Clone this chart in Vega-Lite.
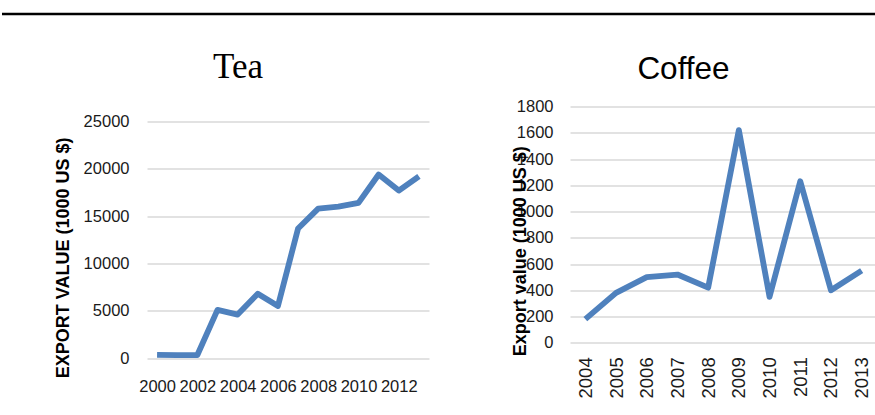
{
  "$schema": "https://vega.github.io/schema/vega-lite/v6.json",
  "background": "white",
  "padding": {"left": 0, "top": 12, "right": 0, "bottom": 0},
  "datasets": {
    "tea": [
      {"year": 2000, "value": 350},
      {"year": 2001, "value": 320},
      {"year": 2002, "value": 330},
      {"year": 2003, "value": 5100},
      {"year": 2004, "value": 4600},
      {"year": 2005, "value": 6800},
      {"year": 2006, "value": 5500},
      {"year": 2007, "value": 13700},
      {"year": 2008, "value": 15800},
      {"year": 2009, "value": 16000},
      {"year": 2010, "value": 16400},
      {"year": 2011, "value": 19400},
      {"year": 2012, "value": 17700},
      {"year": 2013, "value": 19200}
    ],
    "coffee": [
      {"year": 2004, "value": 180},
      {"year": 2005, "value": 380},
      {"year": 2006, "value": 500},
      {"year": 2007, "value": 520},
      {"year": 2008, "value": 420},
      {"year": 2009, "value": 1620},
      {"year": 2010, "value": 350},
      {"year": 2011, "value": 1230},
      {"year": 2012, "value": 400},
      {"year": 2013, "value": 550}
    ]
  },
  "config": {
    "view": {"stroke": null},
    "font": "Liberation Sans",
    "axis": {
      "domain": false,
      "ticks": false,
      "tickSize": 0,
      "labelFont": "Liberation Sans",
      "labelFontSize": 16.5,
      "labelColor": "#1a1a1a",
      "gridColor": "#D9D9D9",
      "gridWidth": 1.3,
      "titleFont": "Liberation Sans",
      "titleFontWeight": "bold",
      "titleFontSize": 18,
      "titleColor": "black"
    },
    "title": {
      "color": "black",
      "fontWeight": "normal",
      "frame": "group",
      "anchor": "middle",
      "baseline": "alphabetic"
    }
  },
  "bounds": "flush",
  "spacing": 92.5,
  "vconcat": [
    {
      "width": 875,
      "height": 1,
      "data": {"values": [{"edge": 0}]},
      "mark": {"type": "rule", "color": "black", "strokeWidth": 2.5},
      "encoding": {
        "y": {"field": "edge", "type": "quantitative", "scale": {"domain": [0, 1]}, "axis": null}
      }
    },
    {
      "bounds": "flush",
      "spacing": 141,
      "hconcat": [
        {
          "width": 4,
          "height": 236,
          "data": {"values": []},
          "mark": "point"
        },
        {
          "width": 282,
          "height": 251.6,
          "data": {"name": "tea"},
          "title": {"text": "Tea", "font": "Liberation Serif", "fontSize": 35, "dx": -50, "offset": 21.5},
          "mark": {"type": "line", "color": "#4F81BD", "strokeWidth": 5.8, "strokeJoin": "round"},
          "encoding": {
            "x": {
              "field": "year",
              "type": "ordinal",
              "axis": {
                "title": null,
                "labelAngle": 0,
                "grid": false,
                "labelPadding": 20.5,
                "values": [2000, 2002, 2004, 2006, 2008, 2010, 2012]
              }
            },
            "y": {
              "field": "value",
              "type": "quantitative",
              "scale": {"domain": [0, 25000], "range": [251.6, 15], "nice": false},
              "axis": {
                "title": "EXPORT VALUE  (1000 US $)",
                "grid": true,
                "format": "d",
                "labelPadding": 18,
                "values": [0, 5000, 10000, 15000, 20000, 25000],
                "titleAngle": 270,
                "titleAlign": "center",
                "titleBaseline": "alphabetic",
                "titleX": -78.3,
                "titleY": 150.8
              }
            }
          }
        },
        {
          "width": 307,
          "height": 236.3,
          "data": {"name": "coffee"},
          "title": {"text": "Coffee", "font": "Liberation Sans", "fontSize": 31.5, "dx": -40, "offset": 13.5},
          "mark": {"type": "line", "color": "#4F81BD", "strokeWidth": 5.8, "strokeJoin": "round"},
          "encoding": {
            "x": {
              "field": "year",
              "type": "ordinal",
              "axis": {
                "title": null,
                "labelAngle": -90,
                "labelFontSize": 18.5,
                "grid": false,
                "labelPadding": 14
              }
            },
            "y": {
              "field": "value",
              "type": "quantitative",
              "scale": {"domain": [0, 1800], "nice": false},
              "axis": {
                "title": "Export value (1000 US $)",
                "grid": true,
                "format": "d",
                "labelPadding": 17,
                "values": [0, 200, 400, 600, 800, 1000, 1200, 1400, 1600, 1800],
                "titleAngle": 270,
                "titleAlign": "center",
                "titleBaseline": "alphabetic",
                "titleX": -44.7,
                "titleY": 144.3
              }
            }
          }
        }
      ]
    }
  ]
}
